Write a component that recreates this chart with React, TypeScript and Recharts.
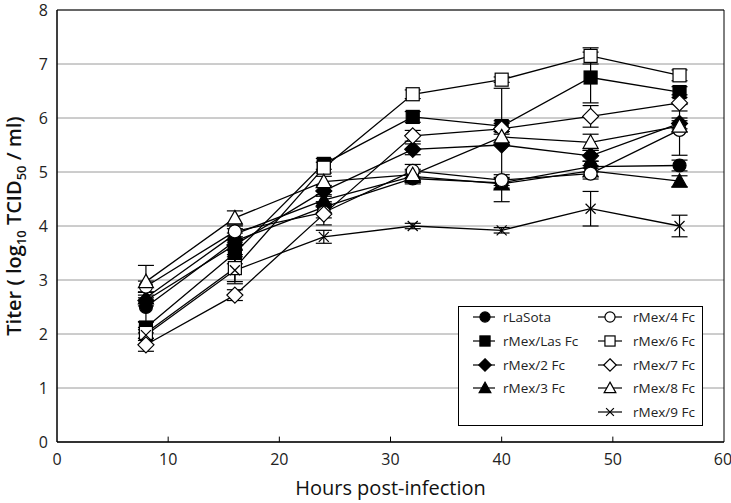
import { LineChart, Line, XAxis, YAxis, CartesianGrid, ErrorBar, ReferenceArea, ReferenceLine, Label } from 'recharts';

const hours = [8, 16, 24, 32, 40, 48, 56];
const xTicks = [0, 10, 20, 30, 40, 50, 60];
const yTicks = [0, 1, 2, 3, 4, 5, 6, 7, 8];

const lasota = [2.5, 3.72, 4.35, 4.88, 4.8, 5.1, 5.12];
const lasotaErr = [0.27, 0.15, 0.1, 0.1, 0.1, 0.1, 0.1];
const mexLas = [2.12, 3.5, 5.15, 6.02, 5.85, 6.75, 6.48];
const mexLasErr = [0.1, 0.2, 0.1, 0.1, 0.1, 0.47, 0.1];
const mex2 = [2.62, 3.65, 4.65, 5.42, 5.5, 5.3, 5.9];
const mex2Err = [0.1, 0.1, 0.1, 0.1, 1.05, 0.1, 0.1];
const mex3 = [2.67, 3.85, 4.48, 4.92, 4.78, 5.02, 4.83];
const mex3Err = [0.1, 0.1, 0.1, 0.1, 0.1, 0.1, 0.1];
const mex4 = [2.88, 3.9, 4.25, 5.02, 4.85, 4.97, 5.78];
const mex4Err = [0.1, 0.1, 0.1, 0.12, 0.1, 0.1, 0.47];
const mex6 = [2.02, 3.22, 5.08, 6.44, 6.71, 7.15, 6.79];
const mex6Err = [0.1, 0.25, 0.1, 0.08, 0.05, 0.15, 0.1];
const mex7 = [1.8, 2.72, 4.22, 5.67, 5.8, 6.03, 6.28];
const mex7Err = [0.12, 0.1, 0.2, 0.1, 0.1, 0.2, 0.15];
const mex8 = [2.97, 4.15, 4.82, 4.95, 5.65, 5.55, 5.85];
const mex8Err = [0.3, 0.13, 0.1, 0.1, 0.1, 0.15, 0.1];
const mex9 = [1.98, 3.18, 3.8, 4.0, 3.92, 4.32, 4.0];
const mex9Err = [0.1, 0.25, 0.12, 0.05, 0.05, 0.32, 0.2];

type Kind = 'circle' | 'square' | 'diamond' | 'triangle' | 'cross';

const series = [
  { key: 'lasota', name: 'rLaSota', values: lasota, errors: lasotaErr, kind: 'circle' as Kind, filled: true },
  { key: 'mexLas', name: 'rMex/Las Fc', values: mexLas, errors: mexLasErr, kind: 'square' as Kind, filled: true },
  { key: 'mex2', name: 'rMex/2 Fc', values: mex2, errors: mex2Err, kind: 'diamond' as Kind, filled: true },
  { key: 'mex3', name: 'rMex/3 Fc', values: mex3, errors: mex3Err, kind: 'triangle' as Kind, filled: true },
  { key: 'mex4', name: 'rMex/4 Fc', values: mex4, errors: mex4Err, kind: 'circle' as Kind, filled: false },
  { key: 'mex6', name: 'rMex/6 Fc', values: mex6, errors: mex6Err, kind: 'square' as Kind, filled: false },
  { key: 'mex7', name: 'rMex/7 Fc', values: mex7, errors: mex7Err, kind: 'diamond' as Kind, filled: false },
  { key: 'mex8', name: 'rMex/8 Fc', values: mex8, errors: mex8Err, kind: 'triangle' as Kind, filled: false },
  { key: 'mex9', name: 'rMex/9 Fc', values: mex9, errors: mex9Err, kind: 'cross' as Kind, filled: false },
];

const data = hours.map((h, i) => {
  const row: Record<string, number> = { hour: h };
  series.forEach((s) => {
    row[s.key] = s.values[i];
    row[s.key + 'Err'] = s.errors[i];
  });
  return row;
});

const FONT = '"Open Sans", sans-serif';

function Marker({ kind, filled, cx, cy, s = 1 }: { kind: Kind; filled: boolean; cx: number; cy: number; s?: number }) {
  const fill = filled ? '#000' : '#fff';
  const st = { fill, stroke: '#000', strokeWidth: 1.2 };
  if (kind === 'circle') return <circle cx={cx} cy={cy} r={6.5 * s} {...st} />;
  if (kind === 'square') return <rect x={cx - 6.5 * s} y={cy - 6.5 * s} width={13 * s} height={13 * s} {...st} />;
  if (kind === 'diamond') {
    const d = 8 * s;
    return <polygon points={`${cx},${cy - d} ${cx + d},${cy} ${cx},${cy + d} ${cx - d},${cy}`} {...st} />;
  }
  if (kind === 'triangle') {
    const d = 7.5 * s;
    return <polygon points={`${cx},${cy - d} ${cx + d},${cy + d * 0.8} ${cx - d},${cy + d * 0.8}`} {...st} />;
  }
  const c = 5 * s;
  return (
    <g stroke="#000" strokeWidth={1.2}>
      <line x1={cx - c} y1={cy - c} x2={cx + c} y2={cy + c} />
      <line x1={cx - c} y1={cy + c} x2={cx + c} y2={cy - c} />
    </g>
  );
}

function makeDot(kind: Kind, filled: boolean, key: string) {
  return (props: any) => {
    const { cx, cy, index } = props;
    if (cx == null || cy == null) return <g key={`${key}-${index}`} />;
    return (
      <g key={`${key}-${index}`}>
        <Marker kind={kind} filled={filled} cx={cx} cy={cy} />
      </g>
    );
  };
}

function LegendBox() {
  const rows = [11, 35, 59, 82, 106];
  const left = series.slice(0, 4);
  const right = series.slice(4);
  return (
    <svg width={246} height={121} style={{ display: 'block' }}>
      <rect x={0.5} y={0.5} width={244} height={119} fill="#fff" stroke="#000" strokeWidth={1} />
      {left.map((s, i) => (
        <g key={s.key}>
          <line x1={15} x2={37} y1={rows[i]} y2={rows[i]} stroke="#000" strokeWidth={1.2} />
          <Marker kind={s.kind} filled={s.filled} cx={27} cy={rows[i]} s={0.78} />
          <text x={45} y={rows[i] + 5} fontSize={13.5} fontFamily={FONT} fill="#222">{s.name}</text>
        </g>
      ))}
      {right.map((s, i) => (
        <g key={s.key}>
          <line x1={140} x2={164} y1={rows[i]} y2={rows[i]} stroke="#000" strokeWidth={1.2} />
          <Marker kind={s.kind} filled={s.filled} cx={152} cy={rows[i]} s={0.78} />
          <text x={175} y={rows[i] + 5} fontSize={13.5} fontFamily={FONT} fill="#222">{s.name}</text>
        </g>
      ))}
    </svg>
  );
}

function YTitle(props: any) {
  const vb = props.viewBox || { x: 0, y: 10, width: 57, height: 432 };
  const cx = 21;
  const cy = vb.y + vb.height / 2;
  return (
    <g transform={`translate(${cx} ${cy}) rotate(-90)`}>
      <text x={0} y={0} textAnchor="middle" fontSize={20} fontWeight={600} fontFamily={FONT} fill="#111">
        Titer ( log<tspan fontSize={13} dy={5}>10</tspan>
        <tspan dy={-5}> TCID</tspan>
        <tspan fontSize={13} dy={5}>50</tspan>
        <tspan dy={-5}> / ml)</tspan>
      </text>
    </g>
  );
}

export default function App() {
  return (
    <div style={{ position: 'absolute', left: 0, top: 0, width: 731, height: 503, background: '#fff' }}>
      <LineChart width={731} height={503} data={data} margin={{ top: 10, right: 7, bottom: 0, left: 0 }}>
        <CartesianGrid vertical={false} stroke="#9a9a9a" strokeWidth={1} />
        <ReferenceArea x1={0} x2={60} y1={0} y2={8} fill="none" fillOpacity={0} stroke="#000" strokeWidth={1} />
        {[10, 20, 30, 40, 50].map((t) => (
          <ReferenceLine key={t} segment={[{ x: t, y: 0 }, { x: t, y: 0.1 }]} stroke="#000" strokeWidth={1} />
        ))}
        <XAxis
          type="number"
          dataKey="hour"
          domain={[0, 60]}
          ticks={xTicks}
          tickLine={false}
          tickSize={0}
          tickMargin={12}
          axisLine={{ stroke: '#000' }}
          height={61}
          tick={{ fontSize: 16, fill: '#222', fontFamily: FONT }}
        >
          <Label
            value="Hours post-infection"
            position="insideBottom"
            offset={8}
            style={{ fontSize: 20, fontWeight: 500, fill: '#111', fontFamily: FONT }}
          />
        </XAxis>
        <YAxis
          type="number"
          domain={[0, 8]}
          ticks={yTicks}
          tickLine={false}
          tickSize={0}
          tickMargin={9}
          width={57}
          axisLine={{ stroke: '#000' }}
          tick={{ fontSize: 16, fill: '#222', fontFamily: FONT }}
          label={<YTitle />}
        />
        {series.map((s) => (
          <Line
            key={s.key}
            dataKey={s.key}
            name={s.name}
            stroke="#000"
            strokeWidth={1.3}
            isAnimationActive={false}
            dot={makeDot(s.kind, s.filled, s.key)}
            activeDot={false}
          >
            <ErrorBar dataKey={s.key + 'Err'} width={8} stroke="#000" strokeWidth={1.2} direction="y" />
          </Line>
        ))}
      </LineChart>
      <div style={{ position: 'absolute', left: 458, top: 306 }}>
        <LegendBox />
      </div>
    </div>
  );
}
